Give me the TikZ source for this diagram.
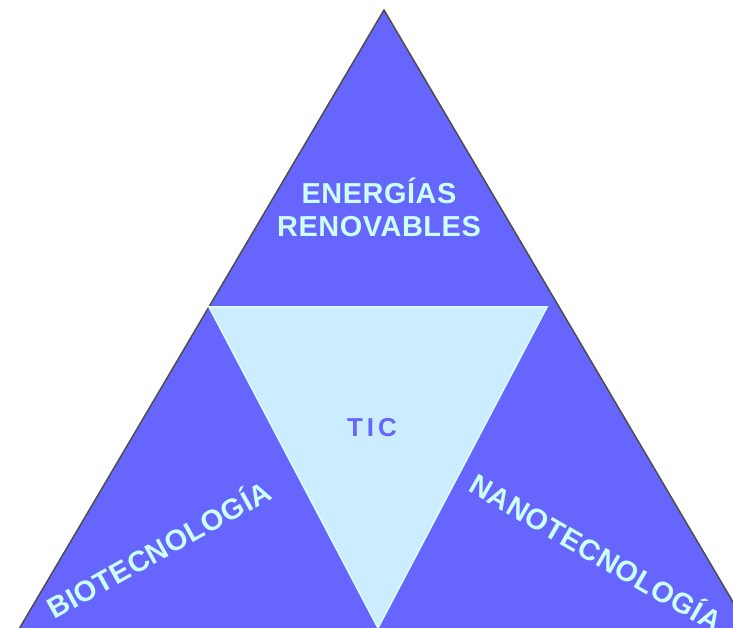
\documentclass[tikz,border=0pt]{standalone}
\usepackage{fontspec}
\setmainfont{Liberation Sans}
\usetikzlibrary{positioning}
\definecolor{fillblue}{HTML}{6666FF}
\definecolor{palecyan}{HTML}{CCECFF}
\definecolor{labelcyan}{HTML}{CCFFFF}
\definecolor{edgegray}{HTML}{4D4D4D}

\begin{document}
\begin{tikzpicture}[x=1bp, y=1bp,
      bigtriangle/.style={fill=fillblue, draw=edgegray, line width=1.5bp},
      smalltriangle/.style={fill=palecyan, draw=labelcyan!70!white, line width=1.5bp},
      outerlabel/.style={text=labelcyan, font=\fontsize{29}{33}\selectfont\bfseries\addfontfeature{LetterSpace=2}, align=center, inner sep=0pt},
      innerlabel/.style={text=fillblue, font=\fontsize{26}{30}\selectfont\bfseries, inner sep=0pt},
      ]
      \clip (0,0) rectangle (733,628);
      %Corners
      \coordinate (apex)        at (384,618);
      \coordinate (bottomleft)  at (2,-30);
      \coordinate (bottomright) at (766,-30);
      \coordinate (innerleft)   at (209,321);
      \coordinate (innerright)  at (547,321);
      \coordinate (innerbottom) at (378,0);

      %Triangles
      \draw[bigtriangle] (apex) -- (bottomleft) -- (bottomright) -- cycle;
      \draw[smalltriangle] (innerleft) -- (innerright) -- (innerbottom) -- cycle;

      %Labels
      \node[outerlabel] (energias) at (379,421) {ENERGÍAS\\RENOVABLES};
      \node[innerlabel] (tic) at (372,200) {T\kern4bp I\kern4bp C};
      \node[outerlabel, rotate=29] (bio) at (158,80) {BIOTECNOLOGÍA};
      \node[outerlabel, rotate=-30] (nano) at (597,77) {NANOTECNOLOGÍA};
\end{tikzpicture}
\end{document}
